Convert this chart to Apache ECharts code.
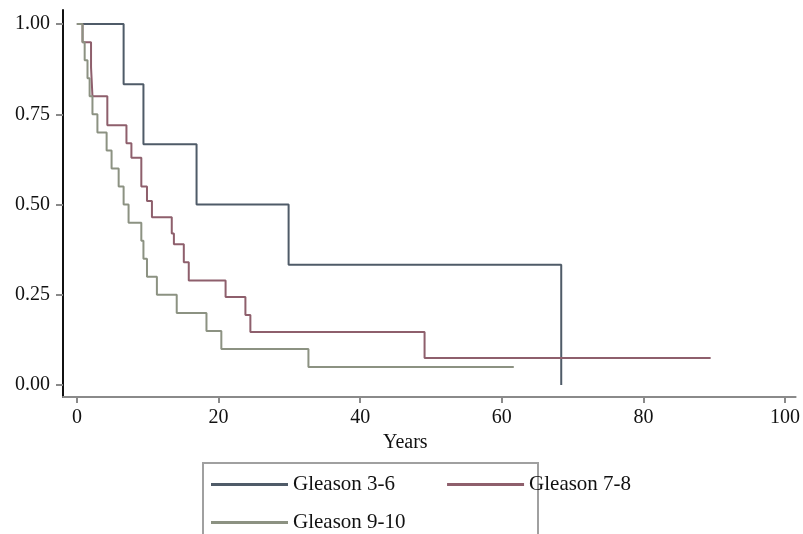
<!DOCTYPE html>
<html>
<head>
<meta charset="utf-8">
<script src="https://cdn.jsdelivr.net/npm/echarts@6/dist/echarts.min.js"></script>
<style>html,body{margin:0;padding:0;background:#fff}#c{width:803px;height:534px}</style>
</head>
<body>
<div id="c"></div>
<script>
// Kaplan-Meier step data: event times (years) and survival after each step
var g36Times = [0, 6.6, 9.4, 16.9, 29.9, 68.4];
var g36Surv  = [1, 0.833, 0.667, 0.5, 0.333, 0];

var g78Times = [0, 0.8, 2.0, 2.2, 4.3, 7.0, 7.7, 9.1, 9.9, 10.6, 13.4, 13.7, 15.1, 15.8, 21.0, 23.8, 24.5, 49.1, 89.5];
var g78Surv  = [1, 0.95, 0.88, 0.80, 0.72, 0.67, 0.63, 0.55, 0.51, 0.465, 0.42, 0.39, 0.34, 0.29, 0.244, 0.194, 0.147, 0.075, 0.075];

var g910Times = [0, 0.8, 1.1, 1.5, 1.8, 2.2, 2.9, 4.2, 4.9, 5.9, 6.6, 7.3, 9.1, 9.4, 9.9, 11.3, 14.1, 18.3, 20.4, 32.7, 61.7];
var g910Surv  = [1, 0.95, 0.90, 0.85, 0.80, 0.75, 0.70, 0.65, 0.60, 0.55, 0.50, 0.45, 0.40, 0.35, 0.30, 0.25, 0.20, 0.15, 0.10, 0.05, 0.05];

var seriesNames = ['Gleason 3-6', 'Gleason 7-8', 'Gleason 9-10'];
var yTicks = [0, 0.25, 0.5, 0.75, 1];
var xTicks = [0, 20, 40, 60, 80, 100];
var xTitle = 'Years';

function pairs(t, s) { return t.map(function (v, i) { return [v, s[i]]; }); }

var colors = ['#4f5b68', '#8e5f6c', '#8c9282'];
var font = 'Liberation Serif';

var chart = echarts.init(document.getElementById('c'));
chart.setOption({
  animation: false,
  backgroundColor: '#fff',
  grid: { left: 63, right: 0, top: 10, bottom: 137, containLabel: false },
  xAxis: {
    type: 'value', min: -1.96, max: 101.5,
    splitLine: { show: false },
    axisLine: { show: true, onZero: false, lineStyle: { color: '#8a8a8a', width: 2 } },
    axisTick: { show: true, length: 6, lineStyle: { color: '#8a8a8a', width: 2 }, customValues: xTicks },
    axisLabel: { customValues: xTicks, margin: 11, fontFamily: font, fontSize: 20, color: '#111' },
    name: xTitle, nameLocation: 'middle', nameGap: 31,
    nameTextStyle: { fontFamily: font, fontSize: 20, color: '#111', padding: [0, 48, 0, 0] }
  },
  yAxis: {
    type: 'value', min: -0.033, max: 1.039,
    splitLine: { show: false },
    axisLine: { show: true, onZero: false, lineStyle: { color: '#111', width: 2 } },
    axisTick: { show: true, length: 7, lineStyle: { color: '#8a8a8a', width: 2 }, customValues: yTicks },
    axisLabel: { customValues: yTicks, margin: 13, fontFamily: font, fontSize: 20, color: '#111',
      formatter: function (v) { return v.toFixed(2); } }
  },
  legend: [
    { data: [seriesNames[0], seriesNames[1]], left: 211, top: 474, padding: 0, itemGap: 52,
      itemWidth: 77, itemHeight: 3, icon: 'rect', itemTextGap: 6,
      textStyle: { fontFamily: font, fontSize: 21, color: '#111' } },
    { data: [seriesNames[2]], left: 211, top: 512, padding: 0,
      itemWidth: 77, itemHeight: 3, icon: 'rect', itemTextGap: 6,
      textStyle: { fontFamily: font, fontSize: 21, color: '#111' } }
  ],
  graphic: [
    { type: 'rect', shape: { x: 203, y: 463, width: 335, height: 90 },
      style: { fill: 'none', stroke: '#a0a0a0', lineWidth: 2 }, z: -1 }
  ],
  series: [
    { name: seriesNames[0], type: 'line', step: 'end', symbol: 'none', data: pairs(g36Times, g36Surv),
      lineStyle: { color: colors[0], width: 2 }, itemStyle: { color: colors[0] } },
    { name: seriesNames[1], type: 'line', step: 'end', symbol: 'none', data: pairs(g78Times, g78Surv),
      lineStyle: { color: colors[1], width: 2 }, itemStyle: { color: colors[1] } },
    { name: seriesNames[2], type: 'line', step: 'end', symbol: 'none', data: pairs(g910Times, g910Surv),
      lineStyle: { color: colors[2], width: 2 }, itemStyle: { color: colors[2] } }
  ]
});
</script>
</body>
</html>
